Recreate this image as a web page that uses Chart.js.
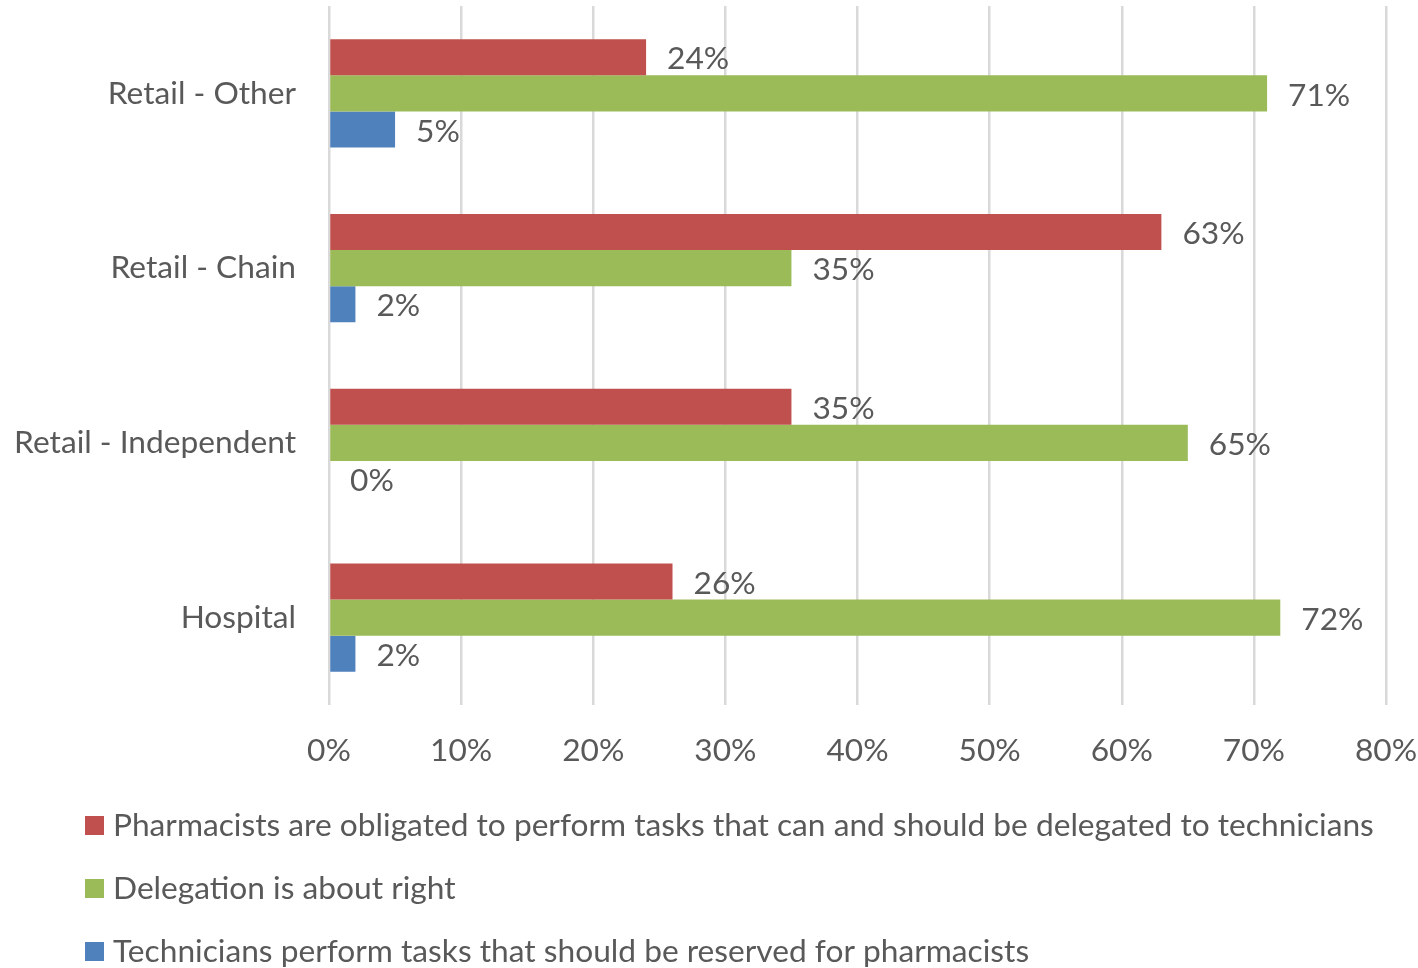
<!DOCTYPE html>
<html>
<head>
<meta charset="utf-8">
<script src="https://cdn.jsdelivr.net/npm/chart.js@4"></script>
<style>
  html, body { margin: 0; padding: 0; background: #fff; }
  #wrap { width: 1418px; height: 968px; position: relative; }
</style>
</head>
<body>
<div id="wrap"><canvas id="delegationChart"></canvas></div>
<script>
// ------------------- Data -------------------
const settings = ['Retail - Other', 'Retail - Chain', 'Retail - Independent', 'Hospital'];
const obligatedValues = [24, 63, 35, 26];
const aboutRightValues = [71, 35, 65, 72];
const reservedValues = [5, 2, 0, 2];
const xTicks = [0, 10, 20, 30, 40, 50, 60, 70, 80];

const seriesLabels = [
    'Pharmacists are obligated to perform tasks that can and should be delegated to technicians',
    'Delegation is about right',
    'Technicians perform tasks that should be reserved for pharmacists'
];
const seriesColors = ['#C0504D', '#9BBB59', '#4F81BD'];

const TEXT_COLOR = '#595959';
const FONT_FAMILY = 'Lato, "Open Sans", sans-serif';
const FONT_SIZE = 31.7;

// ------------------- Plugins -------------------
// value labels just past the end of each bar
const valueLabels = {
    id: 'valueLabels',
    afterDatasetsDraw(chart) {
        const ctx = chart.ctx;
        ctx.save();
        ctx.font = FONT_SIZE + 'px ' + FONT_FAMILY;
        ctx.fillStyle = TEXT_COLOR;
        ctx.textAlign = 'left';
        ctx.textBaseline = 'middle';
        chart.data.datasets.forEach((ds, i) => {
            chart.getDatasetMeta(i).data.forEach((bar, j) => {
                ctx.fillText(ds.data[j] + '%', bar.x + 21, bar.y + 2);
            });
        });
        ctx.restore();
    }
};

// legend stacked one entry per row under the axis
const stackedLegend = {
    id: 'stackedLegend',
    afterDraw(chart) {
        const ctx = chart.ctx;
        ctx.save();
        ctx.font = FONT_SIZE + 'px ' + FONT_FAMILY;
        ctx.textAlign = 'left';
        ctx.textBaseline = 'middle';
        chart.data.datasets.forEach((ds, i) => {
            const y = 825 + i * 63;
            ctx.fillStyle = ds.backgroundColor;
            ctx.fillRect(85, y - 9, 19, 19);
            ctx.fillStyle = TEXT_COLOR;
            ctx.fillText(ds.label, 113, y + 1);
        });
        ctx.restore();
    }
};

// ------------------- Chart -------------------
const ctx = document.getElementById('delegationChart').getContext('2d');

new Chart(ctx, {
    type: 'bar',
    data: {
        labels: settings,
        datasets: [
            { label: seriesLabels[0], data: obligatedValues, backgroundColor: seriesColors[0] },
            { label: seriesLabels[1], data: aboutRightValues, backgroundColor: seriesColors[1] },
            { label: seriesLabels[2], data: reservedValues, backgroundColor: seriesColors[2] }
        ]
    },
    options: {
        indexAxis: 'y',
        responsive: true,
        maintainAspectRatio: false,
        animation: false,
        categoryPercentage: 0.62,
        barPercentage: 1,
        layout: {
            padding: { top: 6, right: 32, bottom: 200, left: 0 }
        },
        plugins: {
            legend: { display: false },
            tooltip: { enabled: false }
        },
        scales: {
            x: {
                min: 0,
                max: 80,
                afterBuildTicks: (scale) => {
                    scale.ticks = xTicks.map(v => ({ value: v }));
                },
                afterFit: (scale) => {
                    scale.height = 63;
                    scale.paddingLeft = 0;
                    scale.paddingRight = 0;
                },
                grid: { color: '#D9D9D9', lineWidth: 2.5, drawTicks: false },
                border: { display: false },
                ticks: {
                    padding: 27,
                    color: TEXT_COLOR,
                    font: { family: FONT_FAMILY, size: FONT_SIZE },
                    callback: (v) => v + '%'
                }
            },
            y: {
                afterFit: (scale) => {
                    scale.width = 329;
                    scale.paddingTop = 0;
                    scale.paddingBottom = 0;
                },
                grid: { display: false, drawTicks: false },
                border: { display: false },
                ticks: {
                    padding: 33,
                    color: TEXT_COLOR,
                    font: { family: FONT_FAMILY, size: FONT_SIZE }
                }
            }
        }
    },
    plugins: [valueLabels, stackedLegend]
});
</script>
</body>
</html>
